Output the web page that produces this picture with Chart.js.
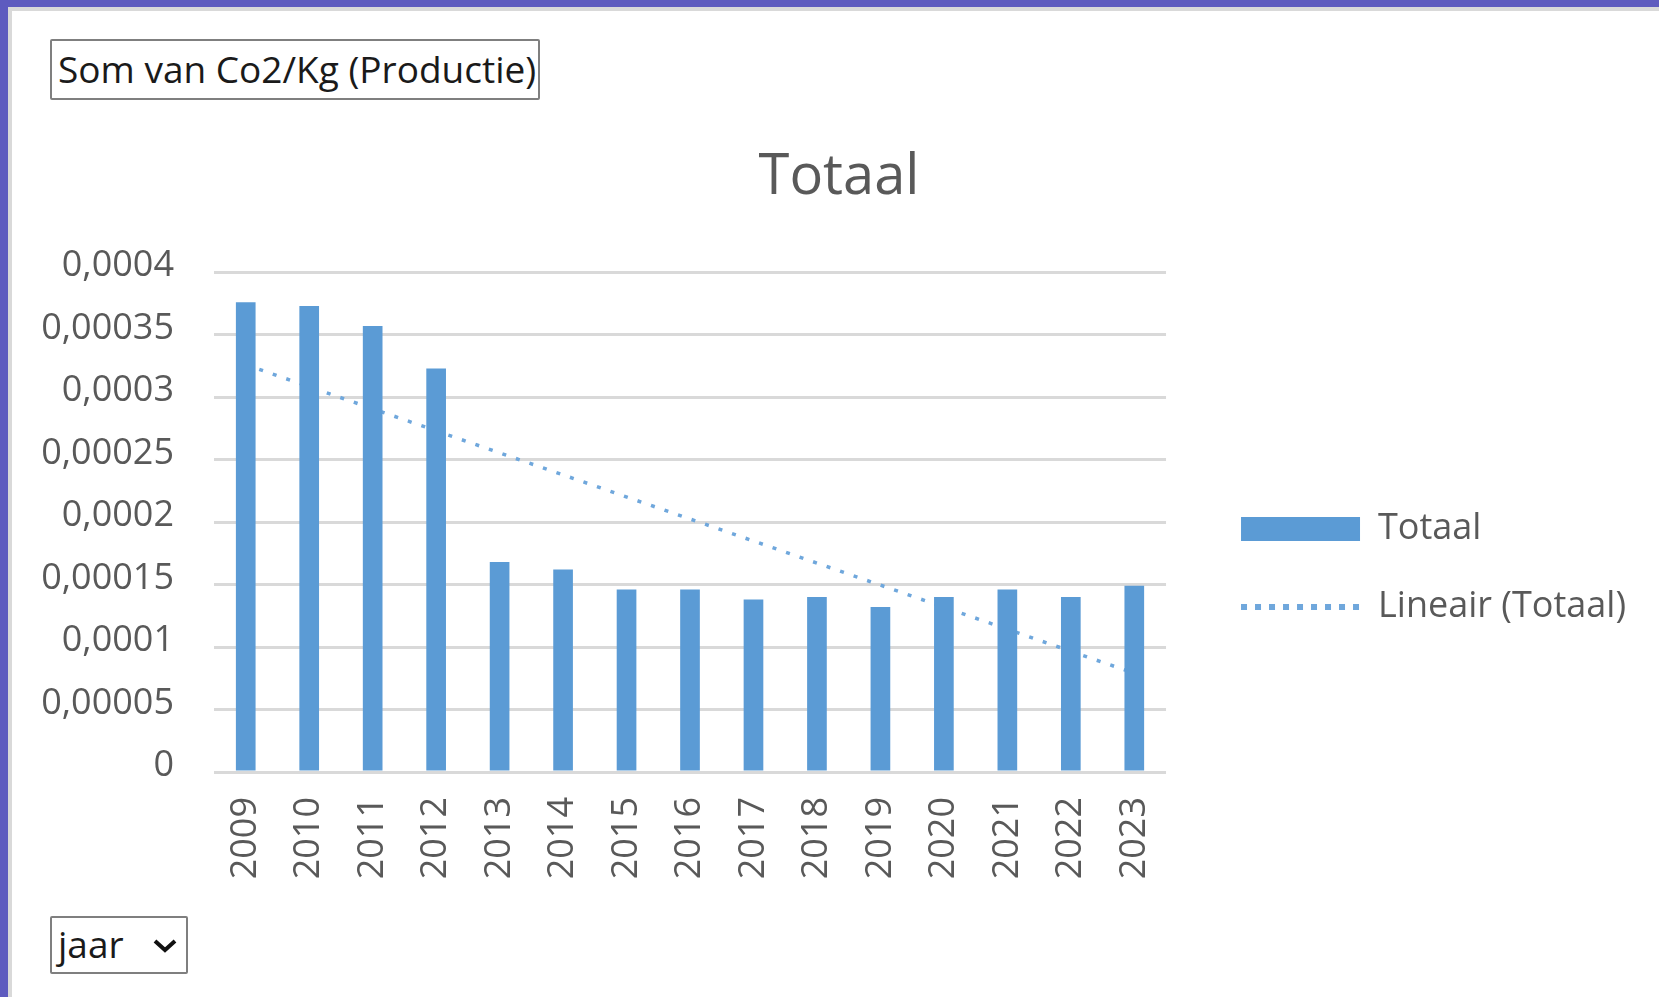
<!DOCTYPE html>
<html>
    <head>
        <meta charset="utf-8"/>
        <title>Totaal</title>
        <script src="https://cdn.jsdelivr.net/npm/chart.js@4.4.0/dist/chart.umd.min.js"></script>
        <style>
            html, body { margin: 0; padding: 0; background: #fff; }
            body { width: 1659px; height: 997px; position: relative; overflow: hidden; font-family: 'Open Sans', sans-serif; }
            #topbar { position: absolute; left: 0; top: 0; width: 1659px; height: 7px; background: #5e5bbf; }
            #topline { position: absolute; left: 8px; top: 7px; width: 1651px; height: 4px; background: #d9d9d9; }
            #leftbar { position: absolute; left: 0; top: 0; width: 8px; height: 997px; background: #5e5bbf; }
            #leftline { position: absolute; left: 8px; top: 7px; width: 4px; height: 990px; background: #d9d9d9; }
            #chart { position: absolute; left: 12px; top: 12px; }
            .box { position: absolute; border: 2px solid #7f7f7f; border-radius: 2px; background: #fff;
                   color: #1a1a1a; font-size: 37px; line-height: 1; box-sizing: border-box; z-index: 2; }
            #field { left: 50px; top: 39px; width: 490px; height: 61px; padding: 9px 0 0 6px; }
            #jaar { left: 50px; top: 916px; width: 138px; height: 58px; padding: 7px 0 0 6px; }
            #jaar svg { position: absolute; left: 100px; top: 19px; }
        </style>
    </head>

    <body>
        <div id="topbar"></div>
        <div id="leftbar"></div>
        <div id="topline"></div>
        <div id="leftline"></div>
        <canvas id="chart" width="1647" height="985"></canvas>
        <div class="box" id="field">Som van Co2/Kg (Productie)</div>
        <div class="box" id="jaar">jaar<svg width="26" height="18" viewBox="0 0 26 18"><polyline points="3,4 13,13 23,4" fill="none" stroke="#111" stroke-width="4"/></svg></div>

        <script>
            var years = ['2009', '2010', '2011', '2012', '2013', '2014', '2015', '2016',
                         '2017', '2018', '2019', '2020', '2021', '2022', '2023'];
            var totaal = [0.000376, 0.000373, 0.000357, 0.000323, 0.000168, 0.000162, 0.000146, 0.000146,
                          0.000138, 0.000140, 0.000132, 0.000140, 0.000146, 0.000140, 0.000149];
            // trendline: start and end only
            var trend = [0.000326, null, null, null, null, null, null, null,
                         null, null, null, null, null, null, 0.000079];
            var yTickLabels = ['0', '0,00005', '0,0001', '0,00015', '0,0002',
                               '0,00025', '0,0003', '0,00035', '0,0004'];

            var barColor = '#5b9bd5';
            var trendColor = '#6fa7dc';
            var grey = '#595959';
            var font = "'Open Sans', sans-serif";

            var ctx = document.getElementById("chart");
            var myChart = new Chart(ctx, {
                data: {
                    labels: years,
                    datasets: [{
                        type: 'bar',
                        label: 'Totaal',
                        data: totaal,
                        backgroundColor: barColor,
                        borderWidth: 0,
                        categoryPercentage: 1,
                        barPercentage: 0.31,
                        pointStyle: 'rect',
                        order: 0
                    }, {
                        type: 'line',
                        label: 'Lineair (Totaal)',
                        data: trend,
                        spanGaps: true,
                        borderColor: trendColor,
                        backgroundColor: trendColor,
                        borderWidth: 3.5,
                        borderDash: [4, 10.3],
                        pointRadius: 0,
                        pointStyle: 'line',
                        order: 1
                    }]
                },
                options: {
                    responsive: false,
                    animation: false,
                    devicePixelRatio: 1,
                    layout: {
                        padding: { left: 30, right: 23, top: 0, bottom: 95 }
                    },
                    scales: {
                        x: {
                            grid: { display: false, drawTicks: false },
                            border: { display: false },
                            ticks: {
                                autoSkip: false,
                                maxRotation: 90,
                                minRotation: 90,
                                padding: 25,
                                color: grey,
                                font: { family: font, size: 36 }
                            },
                            afterFit: function(s) { s.height = 130; }
                        },
                        y: {
                            min: 0,
                            max: 0.0004,
                            grid: { color: '#d9d9d9', lineWidth: 3, drawTicks: false },
                            border: { display: false },
                            ticks: {
                                stepSize: 0.00005,
                                padding: 40,
                                labelOffset: -6,
                                color: grey,
                                font: { family: font, size: 36 },
                                callback: function(v, i) { return yTickLabels[i]; }
                            },
                            afterFit: function(s) { s.width = 172; }
                        },
                        gap: {
                            type: 'linear',
                            position: 'right',
                            grid: { display: false, drawTicks: false },
                            border: { display: false },
                            ticks: { display: false },
                            afterFit: function(s) { s.width = 33; }
                        }
                    },
                    plugins: {
                        title: {
                            display: true,
                            text: 'Totaal',
                            color: grey,
                            font: { family: font, size: 56, weight: 'normal' },
                            padding: { top: 132, bottom: 61 }
                        },
                        legend: {
                            position: 'right',
                            align: 'start',
                            maxWidth: 1000,
                            title: {
                                display: true,
                                text: '',
                                font: { size: 10 },
                                padding: { top: 445, bottom: 0 }
                            },
                            labels: {
                                usePointStyle: true,
                                pointStyleWidth: 119,
                                boxHeight: 24,
                                padding: 42,
                                color: grey,
                                font: { family: font, size: 36 },
                                generateLabels: function(chart) {
                                    var items = Chart.defaults.plugins.legend.labels.generateLabels(chart);
                                    items.forEach(function(it) {
                                        if (it.pointStyle === 'line') {
                                            it.lineWidth = 6;
                                            it.lineDash = [6, 8];
                                        } else {
                                            it.lineWidth = 0;
                                        }
                                    });
                                    return items;
                                }
                            }
                        },
                        tooltip: { enabled: false }
                    }
                }
            });
        </script>
    </body>
</html>
